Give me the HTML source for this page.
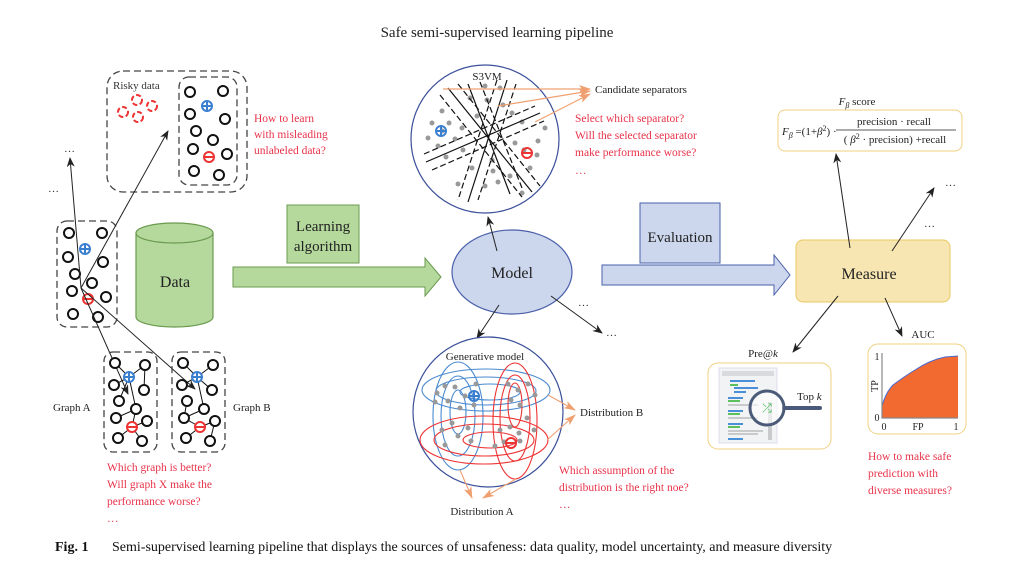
<!DOCTYPE html>
<html><head><meta charset="utf-8"><style>
body{margin:0;background:#fff}
svg{display:block}
text{font-family:"Liberation Serif",serif}
</style></head><body>
<svg width="1021" height="571" viewBox="0 0 1021 571" xmlns="http://www.w3.org/2000/svg">
<defs>
<marker id="ar" markerWidth="10" markerHeight="8" refX="9" refY="4" orient="auto" markerUnits="userSpaceOnUse"><path d="M0,0 L10,4 L0,8 L3,4 z" fill="#222"/></marker>
<marker id="ao" markerWidth="12" markerHeight="8" refX="11" refY="4" orient="auto" markerUnits="userSpaceOnUse"><path d="M0,0 L12,4 L0,8 L3,4 z" fill="#f0a070"/></marker>
</defs>
<text x="497" y="37" font-size="15" text-anchor="middle" fill="#222">Safe semi-supervised learning pipeline</text>

<!-- Risky data -->
<rect x="107" y="71" width="140" height="121" rx="16" fill="none" stroke="#444" stroke-width="1.3" stroke-dasharray="7,4"/>
<rect x="179" y="77" width="58" height="108" rx="10" fill="none" stroke="#444" stroke-width="1.3" stroke-dasharray="7,4"/>
<text x="113" y="89" font-size="11" fill="#333">Risky data</text>
<g fill="none" stroke="#e33" stroke-width="2" stroke-dasharray="5,2.5">
<circle cx="123" cy="112" r="5"/><circle cx="137" cy="100" r="5"/><circle cx="152" cy="106" r="5"/><circle cx="138" cy="117" r="5"/></g>
<g fill="none" stroke="#111" stroke-width="2">
<circle cx="190" cy="92" r="5"/><circle cx="223" cy="91" r="5"/><circle cx="190" cy="114" r="5"/><circle cx="225" cy="119" r="5"/><circle cx="196" cy="131" r="5"/><circle cx="213" cy="140" r="5"/><circle cx="193" cy="149" r="5"/><circle cx="227" cy="154" r="5"/><circle cx="194" cy="171" r="5"/><circle cx="219" cy="175" r="5"/></g>
<g stroke-width="2" fill="none"><circle cx="207" cy="106" r="5" stroke="#3a7fd0"/><path d="M202,106h10M207,101v10" stroke="#3a7fd0"/>
<circle cx="209" cy="157" r="5" stroke="#e33"/><path d="M204,157h10" stroke="#e33"/></g>
<g font-size="11.5" fill="#e8334a"><text x="254" y="122">How to learn</text><text x="254" y="138">with misleading</text><text x="254" y="154">unlabeled data?</text></g>

<!-- left data box -->
<rect x="57" y="221" width="60" height="106" rx="10" fill="none" stroke="#444" stroke-width="1.3" stroke-dasharray="7,4"/>
<g fill="none" stroke="#111" stroke-width="2">
<circle cx="69" cy="233" r="5"/><circle cx="102" cy="233" r="5"/><circle cx="68" cy="257" r="5"/><circle cx="103" cy="262" r="5"/><circle cx="75" cy="274" r="5"/><circle cx="92" cy="283" r="5"/><circle cx="72" cy="291" r="5"/><circle cx="106" cy="297" r="5"/><circle cx="73" cy="314" r="5"/><circle cx="98" cy="317" r="5"/></g>
<g stroke-width="2" fill="none"><circle cx="85" cy="249" r="5" stroke="#3a7fd0"/><path d="M80,249h10M85,244v10" stroke="#3a7fd0"/>
<circle cx="88" cy="299" r="5" stroke="#e33"/><path d="M83,299h10" stroke="#e33"/></g>
<g stroke="#222" stroke-width="1" fill="none">
<line x1="81" y1="288" x2="70" y2="158" marker-end="url(#ar)"/>
<line x1="81" y1="288" x2="168" y2="131" marker-end="url(#ar)"/>
<line x1="81" y1="288" x2="128" y2="394" marker-end="url(#ar)"/>
<line x1="81" y1="288" x2="195" y2="389" marker-end="url(#ar)"/>
</g>
<text x="64" y="152" font-size="11" fill="#333">…</text>
<text x="48" y="192" font-size="11" fill="#333">…</text>

<!-- Data cylinder -->
<path d="M136,233 v84 a38.5,10 0 0 0 77,0 v-84" fill="#b5d99c" stroke="#6a9a4f" stroke-width="1.2"/>
<ellipse cx="174.5" cy="233" rx="38.5" ry="10" fill="#b5d99c" stroke="#6a9a4f" stroke-width="1.2"/>
<text x="175" y="287" font-size="16" text-anchor="middle" fill="#222">Data</text>

<!-- Learning algorithm -->
<rect x="287" y="205" width="72" height="58" fill="#b5d99c" stroke="#6a9a4f"/>
<text x="323" y="231" font-size="15" text-anchor="middle" fill="#222">Learning</text>
<text x="323" y="251" font-size="15" text-anchor="middle" fill="#222">algorithm</text>
<path d="M233,267 H425 V258 L441,277 L425,296 V287 H233 Z" fill="#b5d99c" stroke="#6a9a4f"/>

<!-- Model -->
<ellipse cx="512" cy="272" rx="60" ry="42" fill="#ccd7ee" stroke="#4a5fa8" stroke-width="1.2"/>
<text x="512" y="278" font-size="16" text-anchor="middle" fill="#222">Model</text>
<g stroke="#222" stroke-width="1"><line x1="497" y1="251" x2="488" y2="217" marker-end="url(#ar)"/>
<line x1="499" y1="305" x2="477" y2="338" marker-end="url(#ar)"/>
<line x1="551" y1="296" x2="602" y2="333" marker-end="url(#ar)"/></g>
<text x="578" y="306" font-size="11" fill="#333">…</text>
<text x="606" y="336" font-size="11" fill="#333">…</text>

<!-- S3VM -->
<circle cx="485" cy="139" r="74" fill="#fff" stroke="#3a4f9a" stroke-width="1.2"/>
<text x="487" y="80" font-size="11" text-anchor="middle" fill="#222">S3VM</text>
<g fill="#999">
<circle cx="442" cy="111" r="2.5"/><circle cx="432" cy="123" r="2.5"/><circle cx="442" cy="131" r="2.5"/><circle cx="428" cy="138" r="2.5"/><circle cx="449" cy="123" r="2.5"/><circle cx="462" cy="128" r="2.5"/><circle cx="438" cy="146" r="2.5"/><circle cx="455" cy="139" r="2.5"/><circle cx="463" cy="150" r="2.5"/><circle cx="446" cy="157" r="2.5"/><circle cx="470" cy="98" r="2.5"/><circle cx="485" cy="86" r="2.5"/><circle cx="500" cy="88" r="2.5"/><circle cx="487" cy="100" r="2.5"/><circle cx="503" cy="105" r="2.5"/><circle cx="512" cy="113" r="2.5"/><circle cx="522" cy="122" r="2.5"/><circle cx="515" cy="143" r="2.5"/><circle cx="524" cy="150" r="2.5"/><circle cx="538" cy="141" r="2.5"/><circle cx="537" cy="155" r="2.5"/><circle cx="530" cy="168" r="2.5"/><circle cx="510" cy="176" r="2.5"/><circle cx="498" cy="182" r="2.5"/><circle cx="485" cy="186" r="2.5"/><circle cx="458" cy="184" r="2.5"/><circle cx="472" cy="168" r="2.5"/><circle cx="492" cy="160" r="2.5"/><circle cx="545" cy="128" r="2.5"/><circle cx="493" cy="171" r="2.5"/><circle cx="522" cy="193" r="2.5"/><circle cx="477" cy="116" r="2.5"/></g>
<g stroke="#111" stroke-width="1.2" fill="none">
<line x1="448" y1="88" x2="532" y2="192"/><line x1="440" y1="95" x2="522" y2="197" stroke-dasharray="6,3"/><line x1="458" y1="84" x2="540" y2="186" stroke-dasharray="6,3"/>
<line x1="507" y1="80" x2="468" y2="202"/><line x1="497" y1="80" x2="458" y2="200" stroke-dasharray="6,3"/><line x1="516" y1="84" x2="478" y2="200" stroke-dasharray="6,3"/>
<line x1="426" y1="162" x2="540" y2="113"/><line x1="424" y1="154" x2="535" y2="106" stroke-dasharray="6,3"/><line x1="432" y1="170" x2="544" y2="121" stroke-dasharray="6,3"/>
<line x1="468" y1="84" x2="510" y2="194"/><line x1="480" y1="82" x2="522" y2="188" stroke-dasharray="6,3"/>
</g>
<g stroke-width="2" fill="none"><circle cx="441" cy="131" r="5" stroke="#3a7fd0"/><path d="M436,131h10M441,126v10" stroke="#3a7fd0"/>
<circle cx="527" cy="153" r="5" stroke="#e33"/><path d="M522,153h10" stroke="#e33"/></g>
<g stroke="#f0a070" stroke-width="1.2"><line x1="443" y1="89" x2="590" y2="89" marker-end="url(#ao)"/><line x1="498" y1="106" x2="590" y2="91" marker-end="url(#ao)"/><line x1="535" y1="122" x2="590" y2="94" marker-end="url(#ao)"/></g>
<text x="595" y="93" font-size="11" fill="#222">Candidate separators</text>
<g font-size="11.5" fill="#e8334a"><text x="575" y="122">Select which separator?</text><text x="575" y="139">Will the selected separator</text><text x="575" y="156">make performance worse?</text><text x="575" y="174">…</text></g>

<!-- Generative model -->
<circle cx="488" cy="412" r="75" fill="#fff" stroke="#3a4f9a" stroke-width="1.2"/>
<text x="485" y="360" font-size="11" text-anchor="middle" fill="#222">Generative model</text>
<g fill="none" stroke="#4a8ad0" stroke-width="1.1">
<ellipse cx="458" cy="416" rx="25" ry="54"/><ellipse cx="458" cy="416" rx="17" ry="40"/><ellipse cx="458" cy="412" rx="8" ry="22"/>
<ellipse cx="486" cy="390" rx="64" ry="21"/><ellipse cx="486" cy="391" rx="50" ry="14"/><ellipse cx="490" cy="392" rx="30" ry="8"/></g>
<g fill="none" stroke="#e33" stroke-width="1.1">
<ellipse cx="515" cy="421" rx="22" ry="58"/><ellipse cx="515" cy="418" rx="15" ry="43"/><ellipse cx="515" cy="405" rx="7" ry="22"/>
<ellipse cx="484" cy="440" rx="64" ry="24"/><ellipse cx="484" cy="440" rx="50" ry="16"/><ellipse cx="490" cy="440" rx="27" ry="8"/></g>
<g fill="#999">
<circle cx="437" cy="393" r="2.5"/><circle cx="445" cy="386" r="2.5"/><circle cx="435" cy="402" r="2.5"/><circle cx="448" cy="401" r="2.5"/><circle cx="455" cy="387" r="2.5"/><circle cx="465" cy="396" r="2.5"/><circle cx="476" cy="384" r="2.5"/><circle cx="460" cy="408" r="2.5"/><circle cx="474" cy="405" r="2.5"/><circle cx="452" cy="423" r="2.5"/><circle cx="442" cy="430" r="2.5"/><circle cx="458" cy="436" r="2.5"/><circle cx="468" cy="428" r="2.5"/><circle cx="471" cy="441" r="2.5"/><circle cx="445" cy="445" r="2.5"/><circle cx="508" cy="384" r="2.5"/><circle cx="518" cy="390" r="2.5"/><circle cx="528" cy="384" r="2.5"/><circle cx="535" cy="395" r="2.5"/><circle cx="511" cy="400" r="2.5"/><circle cx="520" cy="405" r="2.5"/><circle cx="527" cy="418" r="2.5"/><circle cx="500" cy="430" r="2.5"/><circle cx="510" cy="427" r="2.5"/><circle cx="519" cy="433" r="2.5"/><circle cx="534" cy="430" r="2.5"/><circle cx="495" cy="446" r="2.5"/><circle cx="520" cy="441" r="2.5"/><circle cx="504" cy="442" r="2.5"/></g>
<g stroke-width="2" fill="none"><circle cx="474" cy="396" r="5" stroke="#3a7fd0"/><path d="M469,396h10M474,391v10" stroke="#3a7fd0"/>
<circle cx="511" cy="443" r="5" stroke="#e33"/><path d="M506,443h10" stroke="#e33"/></g>
<g stroke="#f0a070" stroke-width="1.1"><line x1="548" y1="395" x2="575" y2="410" marker-end="url(#ao)"/><line x1="547" y1="440" x2="575" y2="415" marker-end="url(#ao)"/>
<line x1="460" y1="470" x2="472" y2="498" marker-end="url(#ao)"/><line x1="516" y1="479" x2="483" y2="498" marker-end="url(#ao)"/></g>
<text x="580" y="416" font-size="11" fill="#222">Distribution B</text>
<text x="482" y="515" font-size="11" text-anchor="middle" fill="#222">Distribution A</text>
<g font-size="11.5" fill="#e8334a"><text x="559" y="474">Which assumption of the</text><text x="559" y="491">distribution is the right noe?</text><text x="559" y="508">…</text></g>

<!-- Graphs -->
<rect x="104" y="352" width="53" height="100" rx="9" fill="none" stroke="#444" stroke-width="1.3" stroke-dasharray="7,4"/>
<rect x="172" y="352" width="53" height="100" rx="9" fill="none" stroke="#444" stroke-width="1.3" stroke-dasharray="7,4"/>
<g stroke="#111" stroke-width="1" fill="none">
<path d="M115,363 L129,377 L145,365 M129,377 L114,385 M145,365 L144,390 M129,377 L119,401 M136,409 L116,418 M136,409 L132,427 M132,427 L147,421 M132,427 L118,438 M132,427 L142,441 M129,377 L136,409"/>
<path d="M183,363 L197,377 L213,365 M197,377 L182,385 M197,377 L212,390 M197,377 L204,409 M187,401 L184,418 M204,409 L184,418 M184,418 L200,427 M200,427 L215,421 M200,427 L186,438 M215,421 L210,441"/></g>
<g fill="#fff" stroke="#111" stroke-width="2">
<circle cx="115" cy="363" r="5"/><circle cx="145" cy="365" r="5"/><circle cx="114" cy="385" r="5"/><circle cx="144" cy="390" r="5"/><circle cx="119" cy="401" r="5"/><circle cx="136" cy="409" r="5"/><circle cx="116" cy="418" r="5"/><circle cx="147" cy="421" r="5"/><circle cx="118" cy="438" r="5"/><circle cx="142" cy="441" r="5"/>
<circle cx="183" cy="363" r="5"/><circle cx="213" cy="365" r="5"/><circle cx="182" cy="385" r="5"/><circle cx="212" cy="390" r="5"/><circle cx="187" cy="401" r="5"/><circle cx="204" cy="409" r="5"/><circle cx="184" cy="418" r="5"/><circle cx="215" cy="421" r="5"/><circle cx="186" cy="438" r="5"/><circle cx="210" cy="441" r="5"/></g>
<g stroke-width="2" fill="#fff"><circle cx="129" cy="377" r="5" stroke="#3a7fd0"/><path d="M124,377h10M129,372v10" stroke="#3a7fd0"/>
<circle cx="132" cy="427" r="5" stroke="#e33"/><path d="M127,427h10" stroke="#e33"/>
<circle cx="197" cy="377" r="5" stroke="#3a7fd0"/><path d="M192,377h10M197,372v10" stroke="#3a7fd0"/>
<circle cx="200" cy="427" r="5" stroke="#e33"/><path d="M195,427h10" stroke="#e33"/></g>
<text x="53" y="411" font-size="11" fill="#222">Graph A</text>
<text x="233" y="411" font-size="11" fill="#222">Graph B</text>
<g font-size="11.5" fill="#e8334a"><text x="107" y="471">Which graph is better?</text><text x="107" y="488">Will graph X make the</text><text x="107" y="505">performance worse?</text><text x="107" y="522">…</text></g>

<!-- Evaluation -->
<rect x="640" y="203" width="80" height="60" fill="#ccd7ee" stroke="#4a5fa8"/>
<text x="680" y="242" font-size="15" text-anchor="middle" fill="#222">Evaluation</text>
<path d="M602,265 H774 V255 L790,275 L774,295 V285 H602 Z" fill="#ccd7ee" stroke="#4a5fa8"/>

<!-- Measure -->
<rect x="796" y="240" width="154" height="62" rx="7" fill="#f8e6b2" stroke="#e8c860"/>
<text x="869" y="279" font-size="16" text-anchor="middle" fill="#222">Measure</text>
<text x="857" y="105" font-size="11" text-anchor="middle" fill="#222"><tspan font-style="italic">F</tspan><tspan font-style="italic" font-size="8" dy="3">β</tspan><tspan dy="-3"> score</tspan></text>
<rect x="778" y="110" width="184" height="41" rx="7" fill="#fff" stroke="#f0d080"/>
<text x="782" y="135" font-size="11" fill="#222"><tspan font-style="italic">F</tspan><tspan font-style="italic" font-size="8" dy="3">β</tspan><tspan dy="-3"> =(1+</tspan><tspan font-style="italic">β</tspan><tspan font-size="8" dy="-4">2</tspan><tspan dy="4">) ·</tspan></text>
<text x="894" y="125" font-size="11" text-anchor="middle" fill="#222">precision · recall</text>
<line x1="836" y1="130" x2="956" y2="130" stroke="#222" stroke-width="0.8"/>
<text x="895" y="143" font-size="11" text-anchor="middle" fill="#222">( <tspan font-style="italic">β</tspan><tspan font-size="8" dy="-4">2</tspan><tspan dy="4"> · precision) +recall</tspan></text>
<g stroke="#222" stroke-width="1"><line x1="850" y1="248" x2="836" y2="154" marker-end="url(#ar)"/>
<line x1="892" y1="251" x2="934" y2="188" marker-end="url(#ar)"/>
<line x1="838" y1="296" x2="793" y2="352" marker-end="url(#ar)"/>
<line x1="885" y1="298" x2="902" y2="336" marker-end="url(#ar)"/></g>
<text x="945" y="186" font-size="11" fill="#333">…</text>
<text x="924" y="227" font-size="11" fill="#333">…</text>
<text x="763" y="357" font-size="11" text-anchor="middle" fill="#222">Pre@<tspan font-style="italic">k</tspan></text>
<text x="923" y="338" font-size="11" text-anchor="middle" fill="#222">AUC</text>

<!-- Pre@k box -->
<rect x="708" y="363" width="123" height="86" rx="10" fill="#fff" stroke="#f0d080"/>
<rect x="719" y="368" width="58" height="75" fill="#f2f3f4" stroke="#dde"/>
<rect x="722" y="371" width="52" height="5" fill="#d8dadd"/>
<g fill="#4a90d8"><rect x="730" y="380" width="25" height="2"/><rect x="734" y="387" width="14" height="2"/><rect x="748" y="387" width="10" height="2"/><rect x="734" y="391" width="12" height="2"/><rect x="728" y="397" width="15" height="2"/><rect x="728" y="410" width="15" height="2"/><rect x="728" y="423" width="15" height="2"/><rect x="728" y="438" width="15" height="2"/></g>
<g fill="#5cc05c"><rect x="730" y="384" width="8" height="2"/><rect x="728" y="400" width="12" height="2"/><rect x="728" y="413" width="12" height="2"/><rect x="728" y="426" width="12" height="2"/></g>
<g fill="#c8cacc"><rect x="728" y="404" width="30" height="2"/><rect x="728" y="417" width="30" height="2"/><rect x="728" y="430" width="35" height="2"/><rect x="728" y="433" width="30" height="2"/><rect x="768" y="402" width="4" height="38"/></g>
<line x1="784" y1="408" x2="820" y2="408" stroke="#4a5a78" stroke-width="4" stroke-linecap="round"/>
<circle cx="767" cy="408" r="17" fill="rgba(255,255,255,0.6)" stroke="#4a5a78" stroke-width="3"/>
<text x="767" y="412" font-size="12" text-anchor="middle" fill="#3cb84c" font-family="DejaVu Sans">⤮</text>
<text x="797" y="400" font-size="11" fill="#222">Top <tspan font-style="italic">k</tspan></text>

<!-- AUC box -->
<rect x="868" y="344" width="98" height="90" rx="10" fill="#fff" stroke="#f0d080"/>
<path d="M882,418 L882,406 Q886,392 893,385 Q905,376 915,370 Q930,360 945,357 L958,356 L958,418 Z" fill="#f26a30"/>
<path d="M882,406 Q886,392 893,385 Q905,376 915,370 Q930,360 945,357 L958,356" fill="none" stroke="#4a6ad0" stroke-width="1"/>
<path d="M882,353 V418 H958" fill="none" stroke="#888" stroke-width="1.2"/>
<text x="877" y="360" font-size="10" text-anchor="middle" fill="#222">1</text>
<text x="877" y="421" font-size="10" text-anchor="middle" fill="#222">0</text>
<text x="878" y="386" font-size="10" text-anchor="middle" fill="#222" transform="rotate(-90 878 386)">TP</text>
<text x="884" y="430" font-size="10" text-anchor="middle" fill="#222">0</text>
<text x="918" y="430" font-size="10" text-anchor="middle" fill="#222">FP</text>
<text x="956" y="430" font-size="10" text-anchor="middle" fill="#222">1</text>
<g font-size="11.5" fill="#e8334a"><text x="868" y="460">How to make safe</text><text x="868" y="477">prediction with</text><text x="868" y="494">diverse measures?</text></g>

<!-- caption -->
<text x="55" y="551" font-size="14" fill="#111"><tspan font-weight="bold">Fig. 1</tspan><tspan x="112">Semi-supervised learning pipeline that displays the sources of unsafeness: data quality, model uncertainty, and measure diversity</tspan></text>
</svg>
</body></html>
